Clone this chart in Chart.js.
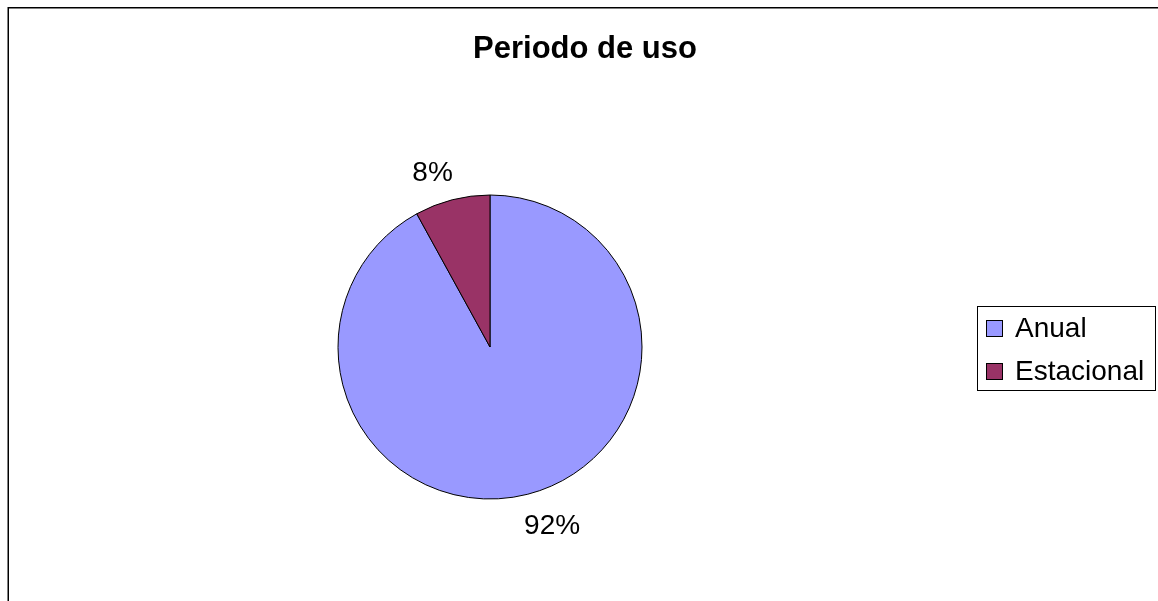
<!DOCTYPE html>
<html>
<head>
<meta charset="utf-8">
<script src="https://cdn.jsdelivr.net/npm/chart.js@4.4.1/dist/chart.umd.min.js"></script>
<style>
  html, body { margin: 0; padding: 0; background: #fff; }
  canvas { display: block; }
</style>
</head>
<body>
<canvas id="chart" width="1158" height="601"></canvas>
<script>
// datos del gráfico
const categories = ["Anual", "Estacional"];
const values = [92, 8];
const percentLabels = ["92%", "8%"];
const sliceColors = ["#9999FF", "#993366"];
const chartTitle = "Periodo de uso";

const FONT = "'Liberation Sans', Arial, sans-serif";

// marco, título, etiquetas y leyenda estilo Excel
const excelDecor = {
    id: "excelDecor",
    beforeDraw(chart) {
        const ctx = chart.ctx;
        ctx.save();
        ctx.fillStyle = "#fff";
        ctx.fillRect(0, 0, chart.width, chart.height);
        ctx.strokeStyle = "#000";
        ctx.lineWidth = 1.5;
        ctx.beginPath();
        ctx.moveTo(8.25, chart.height);
        ctx.lineTo(8.25, 7.75);
        ctx.lineTo(chart.width, 7.75);
        ctx.stroke();
        ctx.restore();
    },
    afterDatasetsDraw(chart) {
        const ctx = chart.ctx;
        ctx.save();

        // título
        ctx.fillStyle = "#000";
        ctx.font = "bold 31px " + FONT;
        ctx.textAlign = "center";
        ctx.textBaseline = "alphabetic";
        ctx.fillText(chartTitle, 585, 58);

        // porcentajes fuera de cada sector
        ctx.font = "28px " + FONT;
        ctx.textBaseline = "middle";
        const meta = chart.getDatasetMeta(0);
        meta.data.forEach((arc, i) => {
            const p = arc.getProps(["x", "y", "startAngle", "endAngle", "outerRadius"], true);
            const mid = (p.startAngle + p.endAngle) / 2;
            const dx = Math.cos(mid), dy = Math.sin(mid);
            const dist = p.outerRadius + 30;
            const w = ctx.measureText(percentLabels[i]).width;
            const tx = p.x + dx * dist + Math.sign(dx) * w * 0.3;
            const ty = p.y + dy * dist + 3;
            ctx.fillText(percentLabels[i], tx, ty);
        });

        // leyenda
        const lx = 977, ly = 306, lw = 178, lh = 84;
        ctx.strokeStyle = "#000";
        ctx.lineWidth = 1;
        ctx.strokeRect(lx + 0.5, ly + 0.5, lw, lh);
        ctx.textAlign = "left";
        ctx.textBaseline = "alphabetic";
        categories.forEach((cat, i) => {
            const rowBase = 337 + i * 43;
            ctx.fillStyle = sliceColors[i];
            ctx.fillRect(986.5, rowBase - 16.5, 16, 16);
            ctx.strokeStyle = "#000";
            ctx.strokeRect(986.5, rowBase - 16.5, 16, 16);
            ctx.fillStyle = "#000";
            ctx.fillText(cat, 1015, rowBase);
        });

        ctx.restore();
    }
};

new Chart(document.getElementById("chart"), {
    type: "pie",
    data: {
        labels: categories,
        datasets: [{
            data: values,
            backgroundColor: sliceColors,
            borderColor: "#000",
            borderWidth: 1,
            radius: 152,
        }],
    },
    options: {
        responsive: false,
        animation: false,
        layout: { padding: { left: 320, right: 498, top: 185, bottom: 92 } },
        plugins: {
            legend: { display: false },
            title: { display: false },
            tooltip: { enabled: false },
        },
    },
    plugins: [excelDecor],
});
</script>
</body>
</html>
